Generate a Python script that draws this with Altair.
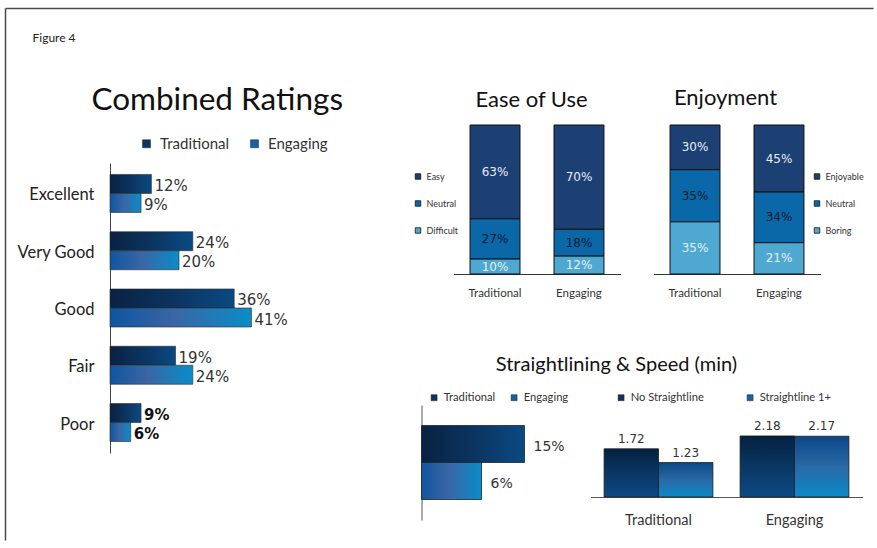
import altair as alt
import pandas as pd

# ---------------- data ----------------
rating_cats = ["Excellent", "Very Good", "Good", "Fair", "Poor"]
rating_traditional = [12, 24, 36, 19, 9]
rating_engaging = [9, 20, 41, 24, 6]
series = ["Traditional", "Engaging"]

stack_groups = ["Traditional", "Engaging"]
ease_cats = ["Easy", "Neutral", "Difficult"]
ease_traditional = [63, 27, 10]
ease_engaging = [70, 18, 12]

enjoy_cats = ["Enjoyable", "Neutral", "Boring"]
enjoy_traditional = [30, 35, 35]
enjoy_engaging = [45, 34, 21]

straight_pct = [15, 6]          # Traditional, Engaging
speed_groups = ["Traditional", "Engaging"]
speed_series = ["No Straightline", "Straightline 1+"]
speed_no = [1.72, 2.18]
speed_yes = [1.23, 2.17]

# ---------------- styles ----------------
FONT = "Lato"
NUMFONT = "DejaVu Sans"


def grad(stops, horizontal=True):
    g = {"gradient": "linear", "x1": 0, "y1": 0,
         "x2": 1 if horizontal else 0, "y2": 0 if horizontal else 1,
         "stops": [{"offset": o, "color": c} for o, c in stops]}
    return g


G_TRAD_H = grad([(0, "#0a2142"), (0.5, "#0b3460"), (1, "#0a4a82")])
G_ENG_H = grad([(0, "#0f55a0"), (0.45, "#3a66a4"), (1, "#0a8dc9")])
G_NO_V = grad([(0, "#05203f"), (0.5, "#0a3764"), (1, "#0c4a84")], horizontal=False)
G_YES_V = grad([(0, "#0b4787"), (0.5, "#2a69a6"), (1, "#0a8bc9")], horizontal=False)

LEG_COLORS = ["#0c3462", "#1463a6"]
STACK_COLORS = ["#1c3f74", "#0a67a8", "#4ea8d1"]

# ---------------- Combined Ratings ----------------
ratings_df = pd.DataFrame(
    [{"cat": c, "series": "Traditional", "value": v} for c, v in zip(rating_cats, rating_traditional)]
    + [{"cat": c, "series": "Engaging", "value": v} for c, v in zip(rating_cats, rating_engaging)]
)

r_y = alt.Y("cat:N", sort=rating_cats,
            scale=alt.Scale(range=[38, 328], paddingInner=0.336, paddingOuter=0.2),
            axis=alt.Axis(title=None, ticks=False, labelPadding=16, labelFontSize=16.5,
                          labelColor="#222", domainColor="#444", labelOffset=2, labelFont=FONT))
r_yo = alt.YOffset("series:N", sort=series, scale=alt.Scale(paddingInner=0, paddingOuter=0))
r_x = alt.X("value:Q", scale=alt.Scale(domain=[0, 50]), axis=None)

r_base = alt.Chart(ratings_df).transform_calculate(label="datum.value + '%'")
r_bars = r_base.mark_bar(stroke="#2a2a2a", strokeWidth=0.6).encode(
    x=r_x, y=r_y, yOffset=r_yo,
    color=alt.condition(alt.datum.series == "Traditional", alt.value(G_TRAD_H), alt.value(G_ENG_H)),
)
r_labels = r_base.transform_filter(alt.datum.cat != "Poor").mark_text(
    align="left", baseline="middle", dx=3, dy=2, font=NUMFONT, fontSize=15, color="#333"
).encode(x=r_x, y=r_y, yOffset=r_yo, text="label:N")
r_labels_poor = r_base.transform_filter(alt.datum.cat == "Poor").mark_text(
    align="left", baseline="middle", dx=3, dy=2, font=NUMFONT, fontSize=15, fontWeight="bold", color="#111"
).encode(x=r_x, y=r_y, yOffset=r_yo, text="label:N")
r_leg = r_base.mark_square(opacity=0).encode(
    x=r_x, y=r_y, yOffset=r_yo,
    color=alt.Color("series:N", sort=series, scale=alt.Scale(domain=series, range=LEG_COLORS),
                    legend=alt.Legend(title=None, orient="none", legendX=29, legendY=11,
                                      direction="horizontal", symbolType="square", symbolSize=64,
                                      symbolOpacity=1, symbolStrokeColor="#222", symbolStrokeWidth=0.5,
                                      labelFontSize=15, labelColor="#333", labelFont=FONT,
                                      columnPadding=17, labelOffset=6)),
)
left = alt.layer(r_bars, r_labels, r_labels_poor, r_leg).properties(
    width=172.5, height=328,
    title=alt.TitleParams("Combined Ratings", fontSize=31.5, font=FONT, fontWeight="normal",
                          anchor="middle", frame="group", dx=21, offset=-16.5,
                          baseline="alphabetic", color="#111"),
)


# ---------------- stacked panels ----------------
def stack_df(cats, trad, eng):
    rows = []
    for g, vals in zip(stack_groups, [trad, eng]):
        for i, (c, v) in enumerate(zip(cats, vals)):
            rows.append({"group": g, "cat": c, "value": v, "ord": len(cats) - 1 - i})
    return pd.DataFrame(rows)


def stack_panel(df, cats, title, x_range, width, leg_x, t_dx, t_off):
    base = alt.Chart(df).transform_stack(
        stack="value", groupby=["group"], sort=[alt.SortField("ord", order="ascending")], as_=["v0", "v1"]
    ).transform_calculate(mid="(datum.v0 + datum.v1) / 2", label="datum.value + '%'")
    x = alt.X("group:N", sort=stack_groups,
              scale=alt.Scale(range=x_range, paddingInner=0.405, paddingOuter=0.197),
              axis=alt.Axis(title=None, labelAngle=0, ticks=False, labelPadding=13, labelFontSize=11.5,
                            labelColor="#333", domainColor="#333", labelFont=FONT))
    y = alt.Y("v0:Q", scale=alt.Scale(domain=[0, 100]), axis=None)
    bars = base.mark_bar(stroke="#111", strokeWidth=1).encode(
        x=x, y=y, y2="v1:Q",
        color=alt.Color("cat:N", sort=cats, scale=alt.Scale(domain=cats, range=STACK_COLORS),
                        legend=alt.Legend(title=None, orient="none", legendX=leg_x, legendY=47,
                                          direction="vertical", symbolType="square", symbolSize=30,
                                          symbolStrokeColor="#111", symbolStrokeWidth=0.8,
                                          labelFontSize=9, labelColor="#333", labelFont=FONT,
                                          rowPadding=17, labelOffset=4)),
    )
    text = base.mark_text(font=NUMFONT, fontSize=12, baseline="middle").encode(
        x=x, y=alt.Y("mid:Q", scale=alt.Scale(domain=[0, 100]), axis=None), text="label:N",
        color=alt.condition(alt.datum.cat == "Neutral", alt.value("#0e1c2c"), alt.value("#e6eef6")),
    )
    return alt.layer(bars, text).properties(
        width=width, height=149,
        title=alt.TitleParams(title, fontSize=22, font=FONT, fontWeight="normal", anchor="middle",
                              frame="group", dx=t_dx, offset=t_off, baseline="alphabetic", color="#111"),
    )


ease = stack_panel(stack_df(ease_cats, ease_traditional, ease_engaging), ease_cats, "Ease of Use",
                   [32, 199], 199, -8, 10.5, -4)
enjoy = stack_panel(stack_df(enjoy_cats, enjoy_traditional, enjoy_engaging), enjoy_cats, "Enjoyment",
                    [0, 167], 167, 159, -11.5, -2)

# ---------------- Straightlining (%) ----------------
sl1_df = pd.DataFrame({"series": series, "value": straight_pct})
s_y = alt.Y("series:N", sort=series, scale=alt.Scale(paddingInner=0, paddingOuter=0.554),
            axis=alt.Axis(title=None, labels=False, ticks=False, domainColor="#555"))
s_x = alt.X("value:Q", scale=alt.Scale(domain=[-6.56, 22.74]), axis=None)
s_base = alt.Chart(sl1_df).transform_calculate(label="datum.value + '%'")
s_bars = s_base.mark_bar(stroke="#222", strokeWidth=0.8).encode(
    y=s_y, x=s_x, x2=alt.datum(-6.56),
    color=alt.condition(alt.datum.series == "Traditional", alt.value(G_TRAD_H), alt.value(G_ENG_H)),
)
s_text = s_base.mark_text(align="left", baseline="middle", dx=9, dy=3, font=NUMFONT, fontSize=14,
                          color="#333").encode(y=s_y, x=s_x, text="label:N")
s_leg = s_base.mark_square(opacity=0).encode(
    y=s_y, x=s_x,
    color=alt.Color("series:N", sort=series, scale=alt.Scale(domain=series, range=LEG_COLORS),
                    legend=alt.Legend(title=None, orient="none", legendX=7, legendY=-13,
                                      direction="horizontal", symbolType="square", symbolSize=36,
                                      symbolOpacity=1, symbolStrokeColor="#222", symbolStrokeWidth=0.5,
                                      labelFontSize=11.2, labelColor="#333", labelFont=FONT,
                                      columnPadding=13, labelOffset=4)),
)
sl1 = alt.layer(s_bars, s_text, s_leg).properties(width=140, height=115)

# ---------------- Speed (min) ----------------
sp_df = pd.DataFrame(
    [{"group": g, "series": speed_series[0], "value": v} for g, v in zip(speed_groups, speed_no)]
    + [{"group": g, "series": speed_series[1], "value": v} for g, v in zip(speed_groups, speed_yes)]
)
p_x = alt.X("group:N", sort=speed_groups, scale=alt.Scale(paddingInner=0.2, paddingOuter=0.1),
            axis=alt.Axis(title=None, labelAngle=0, ticks=False, labelPadding=16, labelFontSize=14.5,
                          labelColor="#333", domainColor="#555", labelFont=FONT))
p_xo = alt.XOffset("series:N", sort=speed_series, scale=alt.Scale(paddingInner=0, paddingOuter=0))
p_y = alt.Y("value:Q", scale=alt.Scale(domain=[0, 3.2857]), axis=None)
p_base = alt.Chart(sp_df)
p_bars = p_base.mark_bar(stroke="#1a1a1a", strokeWidth=0.8).encode(
    x=p_x, xOffset=p_xo, y=p_y,
    color=alt.condition(alt.datum.series == speed_series[0], alt.value(G_NO_V), alt.value(G_YES_V)),
)
p_text = p_base.mark_text(baseline="alphabetic", dy=-6, font=NUMFONT, fontSize=12, color="#333").encode(
    x=p_x, xOffset=p_xo, y=p_y, text=alt.Text("value:Q", format=".2f"))
p_leg = p_base.mark_square(opacity=0).encode(
    x=p_x, xOffset=p_xo, y=p_y,
    color=alt.Color("series:N", sort=speed_series, scale=alt.Scale(domain=speed_series, range=LEG_COLORS),
                    legend=alt.Legend(title=None, orient="none", legendX=25, legendY=-13,
                                      direction="horizontal", symbolType="square", symbolSize=36,
                                      symbolOpacity=1, symbolStrokeColor="#222", symbolStrokeWidth=0.5,
                                      labelFontSize=11.2, labelColor="#333", labelFont=FONT,
                                      columnPadding=40, labelOffset=4)),
)
sl2 = alt.layer(p_bars, p_text, p_leg).properties(width=272, height=92)

# ---------------- page frame (two axis domain lines) with the figure label ----------------
frame = alt.Chart(ratings_df).mark_point(opacity=0).encode(
    x=alt.X("value:Q", scale=alt.Scale(range=[0, 868]),
            axis=alt.Axis(orient="top", offset=117, labels=False, ticks=False, grid=False,
                          domainColor="#4a4a4a", domainWidth=1.5,
                          title="Figure 4", titleX=27, titleY=33, titleAlign="left", titleAngle=0,
                          titleBaseline="alphabetic", titleFont=FONT, titleFontSize=12,
                          titleFontWeight="normal", titleColor="#222")),
    y=alt.Y("value:Q", scale=alt.Scale(range=[-117, 415]),
            axis=alt.Axis(orient="left", labels=False, ticks=False, grid=False, title=None,
                          domainColor="#4a4a4a", domainWidth=1.5)),
).properties(width=105, height=1)

# ---------------- layout ----------------
top_row = alt.hconcat(ease, enjoy, spacing=33, bounds="flush").resolve_scale(color="independent")
bottom_row = alt.hconcat(
    sl1, sl2, spacing=29, bounds="flush",
    title=alt.TitleParams("Straightlining & Speed (min)", fontSize=20, font=FONT, fontWeight="normal",
                          anchor="middle", frame="group", dx=195, offset=1, baseline="alphabetic",
                          color="#111"),
).resolve_scale(color="independent")
right = alt.vconcat(top_row, bottom_row, spacing=280, bounds="flush").resolve_scale(color="independent")
inner = alt.hconcat(left, right, spacing=138.5, bounds="flush").resolve_scale(color="independent")

chart = alt.hconcat(frame, inner, spacing=0, bounds="flush").resolve_scale(color="independent").properties(
    padding={"left": 4, "top": 7, "right": 0, "bottom": 0}
).configure(font=FONT).configure_view(stroke="transparent")

chart.save("out.html", embed_options={"renderer": "svg", "actions": False})
